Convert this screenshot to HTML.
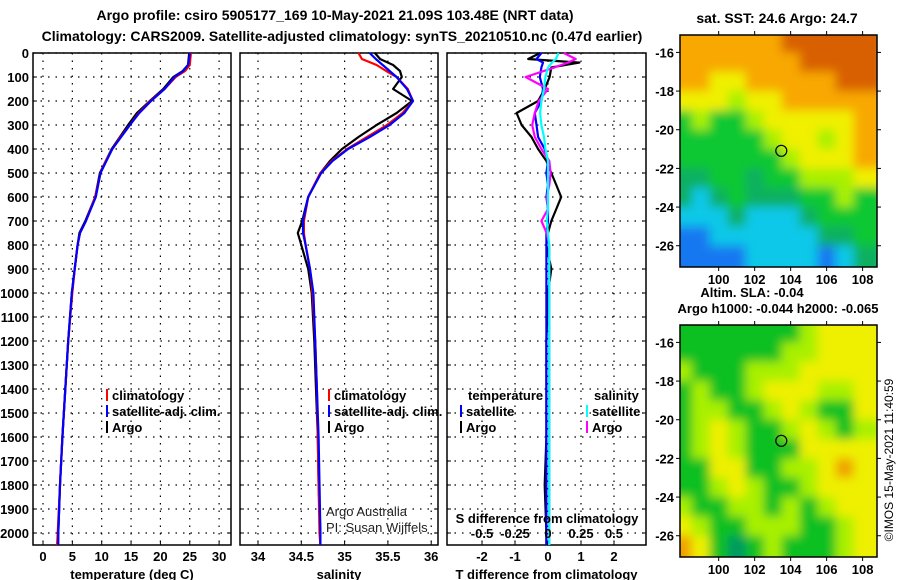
<!DOCTYPE html>
<html><head><meta charset="utf-8">
<style>
html,body{margin:0;padding:0;background:#fff;}
svg{display:block;font-family:"Liberation Sans",sans-serif;}
.b{font-weight:bold;font-size:13px;}
.t{font-weight:bold;font-size:14px;}
</style></head>
<body>
<svg id="c" width="900" height="580" viewBox="0 0 900 580">
<text class="t" x="335" y="20" text-anchor="middle">Argo profile: csiro 5905177_169 10-May-2021 21.09S 103.48E (NRT data)</text>
<text class="t" x="342" y="41" text-anchor="middle">Climatology: CARS2009. Satellite-adjusted climatology: synTS_20210510.nc (0.47d earlier)</text>
<text class="t" x="777" y="23" text-anchor="middle">sat. SST: 24.6 Argo: 24.7</text>
<text class="b" x="752" y="297" text-anchor="middle">Altim. SLA: -0.04</text>
<text class="b" x="778" y="313" text-anchor="middle">Argo h1000: -0.044 h2000: -0.065</text>
<text x="893" y="460" font-size="12" text-anchor="middle" transform="rotate(-90 893 460)">©IMOS 15-May-2021 11:40:59</text>
</svg>
<script>
const depth=[0,25,50,75,100,150,200,250,300,350,400,450,500,600,700,750,800,900,1000,1200,1400,1600,1800,2000,2050];
const tempArgo=[24.9,24.8,24.7,23.8,22.2,20.5,18.2,16.0,14.5,13.1,11.7,10.7,9.7,8.9,7.2,6.2,5.9,5.4,4.9,4.3,3.8,3.3,2.9,2.6,2.5];
const tempClim=[25.2,25.1,25.0,24.2,22.6,20.7,18.3,16.3,14.8,13.2,11.8,10.7,9.8,8.9,7.3,6.3,5.9,5.4,5.0,4.3,3.8,3.3,2.9,2.5,2.4];
const tempSat=[25.0,24.9,24.7,23.9,22.4,20.7,18.4,16.4,14.8,13.3,11.8,10.8,9.8,9.0,7.3,6.3,5.9,5.4,4.9,4.3,3.8,3.3,2.9,2.6,2.6];
const salArgo=[35.35,35.41,35.56,35.64,35.66,35.56,35.78,35.6,35.37,35.16,34.97,34.83,34.72,34.58,34.51,34.46,34.5,34.58,34.62,34.65,34.67,34.69,34.70,34.72,34.72];
const salClim=[35.16,35.2,35.37,35.48,35.6,35.73,35.79,35.67,35.49,35.26,35.03,34.85,34.72,34.58,34.53,34.53,34.55,34.6,34.63,34.66,34.68,34.69,34.70,34.71,34.72];
const salSat=[35.29,35.36,35.44,35.52,35.6,35.72,35.79,35.69,35.52,35.29,35.04,34.86,34.73,34.58,34.52,34.52,34.55,34.6,34.64,34.66,34.68,34.70,34.71,34.72,34.72];
const dDepth=[0,25,40,60,100,150,200,250,300,350,400,450,500,550,600,650,700,750,800,900,1000,1200,1400,1600,1800,2000,2050];
const dTArgo=[-0.24,-0.6,0.95,0.1,0.05,-0.1,-0.3,-0.95,-0.8,-0.5,-0.3,-0.05,0.1,0.25,0.4,0.25,0.1,0.0,-0.05,0.1,0.0,-0.05,-0.05,-0.05,-0.1,-0.05,-0.05];
const dTSat=[-0.2,-0.35,-0.15,-0.2,-0.25,-0.15,-0.2,-0.4,-0.35,-0.3,-0.1,0,-0.05,0,-0.05,0,0,-0.05,-0.05,-0.05,-0.05,-0.05,-0.05,-0.05,-0.05,-0.05,-0.05];
const dSArgo=[0.12,0.21,0.15,0.05,-0.17,0.0,-0.07,-0.1,-0.12,-0.1,-0.05,0.01,0.02,0.01,-0.01,0,-0.05,-0.01,0.01,0.01,0.01,0.01,0.01,0.01,0.01,0.01,0.01];
const dSSat=[0.08,0.06,0.03,0.0,-0.02,-0.03,-0.05,-0.06,-0.05,-0.03,-0.02,0,0,0,0,0,-0.01,0,0.01,0.01,0.01,0.01,0.01,0.01,0.01,0.01,0.01];
const depthTicks=[0,100,200,300,400,500,600,700,800,900,1000,1100,1200,1300,1400,1500,1600,1700,1800,1900,2000];
const tempTicks=[0,5,10,15,20,25,30];
const salTicks=[34,34.5,35,35.5,36];
const dTTicks=[-2,-1,0,1,2];
const dSTicks=[-0.5,-0.25,0,0.25,0.5];
const dSTickLabels=["-0.5","-0.25","0","0.25","0.5"];
const mapLats=[-16,-18,-20,-22,-24,-26];
const mapLons=[100,102,104,106,108];
const gridLats=[-15.5,-16.5,-17.5,-18.5,-19.5,-20.5,-21.5,-22.5,-23.5,-24.5,-25.5,-26.5];
const gridLons=[98,99,100,101,102,103,104,105,106,107,108];
const sstGrid=[
[6,6,6,6,6,6,7,7,7,7,7],[6,6,6,6,6,6,6,7,7,7,7],[6,6,5,5,6,6,6,6,6,7,7],[5,5,5,4,5,5,6,6,6,6,6],
[3,4,3,3,4,5,5,5,5,5,6],[3,3,3,3,3,4,5,5,4,5,6],[3,3,3,3,3,3,4,5,5,5,6],[2,2,3,3,2,3,3,4,4,4,5],
[2,1,2,3,2,2,2,3,3,4,3],[1,1,1,2,1,1,1,2,3,3,3],[0,0,1,1,1,1,1,1,2,2,3],[0,0,0,0,1,1,1,1,0,1,2]];
const slaGrid=[
[1,1,1,1,1,1,1,2,3,3,3],[1,1,1,1,1,1,2,2,3,3,3],[2,1,1,1,2,2,2,3,3,3,3],[1,2,1,1,2,3,3,3,2,2,3],
[1,2,2,1,1,2,3,2,1,1,3],[1,2,3,2,1,1,2,3,2,1,2],[1,2,3,2,1,1,1,3,3,3,3],[1,1,3,3,1,1,2,2,3,4,3],
[1,1,2,3,2,1,1,2,3,3,3],[2,1,1,2,2,1,2,1,2,3,3],[3,2,1,1,2,2,2,1,1,2,3],[4,3,1,0,1,2,1,1,1,2,3]];
const floatLon=103.48, floatLat=-21.09;

const svg=document.getElementById('c');
const NS='http://www.w3.org/2000/svg';
function mk(tag,attrs,parent){const e=document.createElementNS(NS,tag);for(const k in attrs)e.setAttribute(k,attrs[k]);(parent||svg).appendChild(e);return e;}
const top0=53, pxPer=0.24, bot=545;
const yD=d=>top0+d*pxPer;
const xT=t=>43+t*5.87;
const xS=s=>258+(s-34)*86.6;
const xDT=t=>548+t*33;
const xDS=s=>548+s*132;

function panel(x0,x1,name,ticks,xf,labels,title,labelLeft){
  const g=mk('g',{});
  
  
  depthTicks.forEach(d=>{const y=yD(d);
    mk('line',{x1:x0,x2:x1,y1:y,y2:y,stroke:'#000','stroke-width':1.2,'stroke-dasharray':'1.5 6'},g);
    mk('line',{x1:x0,x2:x0+4,y1:y,y2:y,stroke:'#000'},g);mk('line',{x1:x1-4,x2:x1,y1:y,y2:y,stroke:'#000'},g);
    if(labelLeft){const t=mk('text',{x:29,y:y+5,'text-anchor':'end',class:'b'},g);t.textContent=d;}});
  ticks.forEach((v,i)=>{const x=xf(v);
    mk('line',{x1:x,x2:x,y1:top0,y2:bot,stroke:'#000','stroke-width':1.2,'stroke-dasharray':'1.5 6'},g);
    mk('line',{x1:x,x2:x,y1:bot-4,y2:bot,stroke:'#000'},g);
    const t=mk('text',{x:x,y:561,'text-anchor':'middle',class:'b'},g);t.textContent=labels?labels[i]:v;});
  mk('rect',{x:x0,y:top0,width:x1-x0,height:bot-top0,fill:'none',stroke:'#000','stroke-width':1.5},g);
  const tt=mk('text',{x:(x0+x1)/2,y:579,'text-anchor':'middle',class:'b'},g);tt.textContent=title;
}
panel(33,231,'temperature-panel',tempTicks,xT,null,'temperature (deg C)',true);
panel(240,438,'salinity-panel',salTicks,xS,null,'salinity',false);
panel(447,646,'difference-panel',dTTicks,xDT,null,'T difference from climatology',false);

function line(xs,ds,xf,color,name){
  const pts=xs.map((v,i)=>xf(v).toFixed(1)+','+yD(ds[i]).toFixed(1)).join(' ');
  const p=mk('polyline',{points:pts,fill:'none',stroke:color,'stroke-width':2.2,'stroke-linejoin':'round'});
  
  
}
line(tempArgo,depth,xT,'#000','temp-argo-line');
line(tempClim,depth,xT,'#f00','temp-clim-line');
line(tempSat,depth,xT,'#00f','temp-sat-line');
line(salArgo,depth,xS,'#000','sal-argo-line');
line(salClim,depth,xS,'#f00','sal-clim-line');
line(salSat,depth,xS,'#00f','sal-sat-line');
line(dTArgo,dDepth,xDT,'#000','dt-argo-line');
line(dTSat,dDepth,xDT,'#00f','dt-sat-line');
line(dSArgo,dDepth,xDS,'#f0f','ds-argo-line');
line(dSSat,dDepth,xDS,'#0ff','ds-sat-line');

const sl=mk('text',{x:547,y:523,'text-anchor':'middle',class:'b'});sl.textContent='S difference from climatology';

dSTicks.forEach((v,i)=>{const t=mk('text',{x:xDS(v),y:538,'text-anchor':'middle',class:'b'});t.textContent=dSTickLabels[i];
  });

function legend(x,y,color,label,name){
  const g=mk('g',{});
  
  
  mk('line',{x1:x,x2:x,y1:y-11,y2:y+1,stroke:color,'stroke-width':2},g);
  const t=mk('text',{x:x+5,y:y,class:'b'},g);t.textContent=label;
}
legend(107,400,'#f00','climatology','legend-temp-clim');
legend(107,416,'#00f','satellite-adj. clim.','legend-temp-sat');
legend(107,432,'#000','Argo','legend-temp-argo');
legend(329,400,'#f00','climatology','legend-sal-clim');
legend(329,416,'#00f','satellite-adj. clim.','legend-sal-sat');
legend(329,432,'#000','Argo','legend-sal-argo');
let h=mk('text',{x:468,y:400,class:'b'});h.textContent='temperature';

h=mk('text',{x:594,y:400,class:'b'});h.textContent='salinity';

legend(461,416,'#00f','satellite','legend-dt-sat');
legend(461,432,'#000','Argo','legend-dt-argo');
legend(587,416,'#0ff','satellite','legend-ds-sat');
legend(587,432,'#f0f','Argo','legend-ds-argo');
let a=mk('text',{x:326,y:516,'font-size':13,fill:'#222'});a.textContent='Argo Australia';

a=mk('text',{x:326,y:532,'font-size':13,fill:'#222'});a.textContent='PI: Susan Wijffels';


const sstCols=['#1478f0','#10c8e8','#10b060','#10c830','#a8f000','#f0f000','#f8a800','#d86000'];
const slaCols=['#009a60','#10c020','#a8f000','#eef000','#f0a000'];
const mx0=680,mx1=877,lon0=97.85,lon1=108.8,lat0=-15.1,lat1=-27.1;
function mapPanel(y0,y1,grid,cols,name,blur,id){
  const xL=l=>mx0+(l-lon0)/(lon1-lon0)*(mx1-mx0);
  const yL=l=>y0+(l-lat0)/(lat1-lat0)*(y1-y0);
  const g=mk('g',{});
  
  
  const defs=mk('defs',{},g);
  const cp=mk('clipPath',{id:'cp'+id},defs);mk('rect',{x:mx0,y:y0,width:mx1-mx0,height:y1-y0},cp);
  const f=mk('filter',{id:'f'+id,x:'-10%',y:'-10%',width:'120%',height:'120%'},defs);
  mk('feGaussianBlur',{stdDeviation:blur},f);
  const cg=mk('g',{'clip-path':'url(#cp'+id+')'},g);
  const ig=mk('g',{filter:'url(#f'+id+')'},cg);
  const cw=(mx1-mx0)/(lon1-lon0), ch=(y1-y0)/(lat0-lat1);
  grid.forEach((row,r)=>row.forEach((v,c)=>{
    const cell=mk('rect',{x:xL(gridLons[c])-cw/2-(c==0?12:0),y:yL(gridLats[r])-ch/2-(r==0?12:0),width:cw+1+(c==0||c==row.length-1?12:0),height:ch+1+(r==0||r==grid.length-1?12:0),fill:cols[v]},ig);
    
    
  }));
  mk('rect',{x:mx0,y:y0,width:mx1-mx0,height:y1-y0,fill:'none',stroke:'#000','stroke-width':1.5},g);
  mapLats.forEach(l=>{const y=yL(l);
    mk('line',{x1:mx0-4,x2:mx0,y1:y,y2:y,stroke:'#000'},g);mk('line',{x1:mx1,x2:mx1+4,y1:y,y2:y,stroke:'#000'},g);
    const t=mk('text',{x:mx0-6,y:y+5,'text-anchor':'end',class:'b'},g);t.textContent=l;});
  mapLons.forEach(l=>{const x=xL(l);
    mk('line',{x1:x,x2:x,y1:y0-4,y2:y0,stroke:'#000'},g);mk('line',{x1:x,x2:x,y1:y1,y2:y1+4,stroke:'#000'},g);
    const t=mk('text',{x:x,y:y1+17,'text-anchor':'middle',class:'b'},g);t.textContent=l;});
  const ci=mk('circle',{cx:xL(floatLon),cy:yL(floatLat),r:5.5,fill:'none',stroke:'#000','stroke-width':1.2},g);
  
  
}
mapPanel(35,267,sstGrid,sstCols,'sst-map',5,'a');
mapPanel(325,557,slaGrid,slaCols,'sla-map',5,'b');
</script>
</body></html>
